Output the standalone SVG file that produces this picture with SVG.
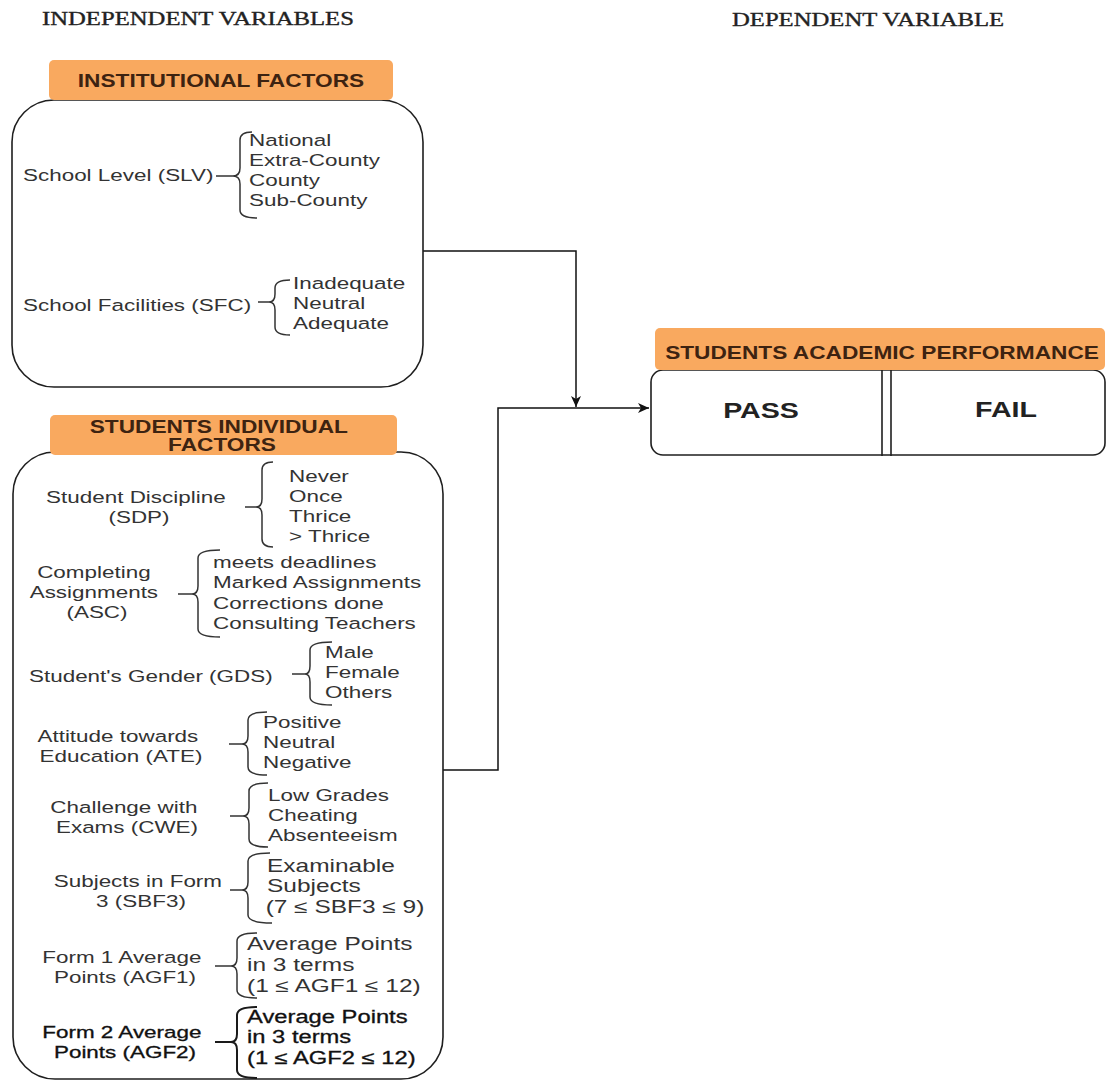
<svg xmlns="http://www.w3.org/2000/svg" width="1107" height="1082" viewBox="0 0 1107 1082">
  <style>
    .ttl { font-family: "Liberation Serif", "Times New Roman", serif; font-size: 19px; fill: #222; stroke: #222; stroke-width: 0.35; }
    .hd { font-family: "Liberation Sans", Arial, sans-serif; font-size: 18px; font-weight: bold; fill: #3d2311; }
    .t { font-family: "Liberation Sans", Arial, sans-serif; font-size: 16.5px; fill: #333; }
    .tl { font-family: "Liberation Sans", Arial, sans-serif; font-size: 18px; fill: #333; }
    .tbold { font-family: "Liberation Sans", Arial, sans-serif; fill: #111; stroke: #111; stroke-width: 0.3; }
    .pf { font-family: "Liberation Sans", Arial, sans-serif; font-size: 22px; font-weight: bold; fill: #222; }
    .mid { text-anchor: middle; }
    .box { fill: #fff; stroke: #1f1f1f; stroke-width: 1.6; }
    .hdr { fill: #f9a95f; }
    .brace { fill: none; stroke: #333; stroke-width: 1.5; }
    .brace2 { fill: none; stroke: #1a1a1a; stroke-width: 2; }
    .conn { fill: none; stroke: #111; stroke-width: 1.5; }
  </style>
  <defs>
    <marker id="arrow" markerUnits="userSpaceOnUse" markerWidth="14" markerHeight="12" refX="11" refY="5" orient="auto">
      <path d="M0,0 L11,5 L0,10 L3,5 Z" fill="#111"/>
    </marker>
  </defs>

  <!-- column titles -->
  <g id="titles">
    <text class="ttl" transform="translate(42 25) scale(1.3 1)">INDEPENDENT VARIABLES</text>
    <text class="ttl" transform="translate(732 26) scale(1.3 1)">DEPENDENT VARIABLE</text>
  </g>

  <!-- connectors -->
  <g id="connectors">
    <path class="conn" d="M423,251 H576 V407" marker-end="url(#arrow)"/>
    <path class="conn" d="M443,770 H498 V408 H649" marker-end="url(#arrow)"/>
  </g>

  <!-- institutional factors -->
  <g id="institutional">
    <rect class="box" x="12" y="100" width="411" height="287" rx="42"/>
    <rect class="hdr" x="49" y="60" width="344" height="40" rx="5"/>
    <text class="hd mid" transform="translate(221 87) scale(1.26 1)">INSTITUTIONAL FACTORS</text>

    <text class="t" transform="translate(23 181) scale(1.36 1)">School Level (SLV)</text>
    <path class="brace" d="M216,176 H233 M252,132 Q240,132 240,140 V168 Q240,176 233,176 Q240,176 240,184 V210 Q240,218 257,218"/>
    <text class="t" transform="translate(249 146) scale(1.36 1)">
      <tspan x="0">National</tspan>
      <tspan x="0" dy="20">Extra-County</tspan>
      <tspan x="0" dy="20">County</tspan>
      <tspan x="0" dy="20">Sub-County</tspan>
    </text>

    <text class="t" transform="translate(23 311) scale(1.36 1)">School Facilities (SFC)</text>
    <path class="brace" d="M258,302 H269 M290,280 Q275,280 275,288 V294 Q275,302 269,302 Q275,302 275,310 V327 Q275,335 290,335"/>
    <text class="t" transform="translate(293 289) scale(1.36 1)">
      <tspan x="0">Inadequate</tspan>
      <tspan x="0" dy="20">Neutral</tspan>
      <tspan x="0" dy="20">Adequate</tspan>
    </text>
  </g>

  <!-- students individual factors -->
  <g id="individual">
    <rect class="box" x="13" y="452" width="430" height="627" rx="42"/>
    <rect class="hdr" x="50" y="415" width="347" height="40" rx="5"/>
    <text class="hd mid" transform="translate(222 433) scale(1.26 1)">
      <tspan x="0">STUDENTS INDIVIDUAL</tspan>
      <tspan x="0" dy="18">FACTORS</tspan>
    </text>

    <!-- discipline -->
    <text class="t mid" transform="translate(139 503) scale(1.36 1)">
      <tspan x="0">Student Discipline</tspan>
      <tspan x="0" dy="20">(SDP)</tspan>
    </text>
    <path class="brace" d="M245,507 H256 M273,462 Q262,462 262,470 V499 Q262,507 256,507 Q262,507 262,515 V539 Q262,547 273,547"/>
    <text class="t" transform="translate(289 482) scale(1.36 1)">
      <tspan x="0">Never</tspan>
      <tspan x="0" dy="20">Once</tspan>
      <tspan x="0" dy="20">Thrice</tspan>
      <tspan x="0" dy="20">&gt; Thrice</tspan>
    </text>

    <!-- assignments -->
    <text class="t mid" transform="translate(97 578) scale(1.36 1)">
      <tspan x="0">Completing</tspan>
      <tspan x="0" dy="20">Assignments</tspan>
      <tspan x="0" dy="20">(ASC)</tspan>
    </text>
    <path class="brace" d="M178,594 H192 M220,550 Q198,550 198,558 V586 Q198,594 192,594 Q198,594 198,602 V629 Q198,637 220,637"/>
    <text class="t" transform="translate(213 568) scale(1.36 1)">
      <tspan x="0">meets deadlines</tspan>
      <tspan x="0" dy="20.5">Marked Assignments</tspan>
      <tspan x="0" dy="20.5">Corrections done</tspan>
      <tspan x="0" dy="20.5">Consulting Teachers</tspan>
    </text>

    <!-- gender -->
    <text class="t" transform="translate(29 682) scale(1.36 1)">Student's Gender (GDS)</text>
    <path class="brace" d="M292,674 H305 M332,642 Q310,642 310,650 V666 Q310,674 305,674 Q310,674 310,682 V697 Q310,705 332,705"/>
    <text class="t" transform="translate(325 658) scale(1.36 1)">
      <tspan x="0">Male</tspan>
      <tspan x="0" dy="20">Female</tspan>
      <tspan x="0" dy="20">Others</tspan>
    </text>

    <!-- attitude -->
    <text class="t mid" transform="translate(121 742) scale(1.36 1)">
      <tspan x="0">Attitude towards</tspan>
      <tspan x="0" dy="20">Education (ATE)</tspan>
    </text>
    <path class="brace" d="M229,744 H242 M267,712 Q248,712 248,720 V736 Q248,744 242,744 Q248,744 248,752 V767 Q248,775 267,775"/>
    <text class="t" transform="translate(263 728) scale(1.36 1)">
      <tspan x="0">Positive</tspan>
      <tspan x="0" dy="20">Neutral</tspan>
      <tspan x="0" dy="20">Negative</tspan>
    </text>

    <!-- exams -->
    <text class="t mid" transform="translate(127 813) scale(1.36 1)">
      <tspan x="0">Challenge with</tspan>
      <tspan x="0" dy="20">Exams (CWE)</tspan>
    </text>
    <path class="brace" d="M230,816 H243 M268,783 Q249,783 249,791 V808 Q249,816 243,816 Q249,816 249,824 V839 Q249,847 268,847"/>
    <text class="t" transform="translate(268 801) scale(1.36 1)">
      <tspan x="0">Low Grades</tspan>
      <tspan x="0" dy="20">Cheating</tspan>
      <tspan x="0" dy="20">Absenteeism</tspan>
    </text>

    <!-- subjects -->
    <text class="t mid" transform="translate(141 887) scale(1.36 1)">
      <tspan x="0">Subjects in Form</tspan>
      <tspan x="0" dy="20">3 (SBF3)</tspan>
    </text>
    <path class="brace" d="M230,890 H242 M270,853 Q248,853 248,861 V882 Q248,890 242,890 Q248,890 248,898 V915 Q248,923 272,923"/>
    <text class="tl" transform="translate(267 872) scale(1.36 1)">
      <tspan x="0">Examinable</tspan>
      <tspan x="0" dy="20.5">Subjects</tspan>
      <tspan x="-1" dy="20.5">(7 ≤ SBF3 ≤ 9)</tspan>
    </text>

    <!-- form 1 points -->
    <text class="t mid" transform="translate(125 963) scale(1.36 1)">
      <tspan x="0">Form 1 Average</tspan>
      <tspan x="0" dy="20">Points (AGF1)</tspan>
    </text>
    <path class="brace" d="M215,966 H231 M257,933 Q237,933 237,941 V958 Q237,966 231,966 Q237,966 237,974 V990 Q237,998 257,998"/>
    <text class="tl" transform="translate(247 950) scale(1.36 1)">
      <tspan x="0">Average Points</tspan>
      <tspan x="0" dy="21">in 3 terms</tspan>
      <tspan x="0" dy="21">(1 ≤ AGF1 ≤ 12)</tspan>
    </text>

    <!-- form 2 points -->
    <text class="tbold mid" font-size="16.5" transform="translate(125 1038) scale(1.36 1)">
      <tspan x="0">Form 2 Average</tspan>
      <tspan x="0" dy="20">Points (AGF2)</tspan>
    </text>
    <path class="brace2" d="M215,1042 H231 M257,1007 Q237,1007 237,1015 V1034 Q237,1042 231,1042 Q237,1042 237,1050 V1070 Q237,1078 257,1078"/>
    <text class="tbold" font-size="18" transform="translate(247 1023) scale(1.32 1)">
      <tspan x="0">Average Points</tspan>
      <tspan x="0" dy="20.5">in 3 terms</tspan>
      <tspan x="0" dy="20.5">(1 ≤ AGF2 ≤ 12)</tspan>
    </text>
  </g>

  <!-- students academic performance -->
  <g id="performance">
    <rect class="box" x="651" y="370" width="454" height="85" rx="12"/>
    <rect class="hdr" x="655" y="328" width="450" height="42" rx="5"/>
    <text class="hd mid" transform="translate(882 359) scale(1.26 1)">STUDENTS ACADEMIC PERFORMANCE</text>
    <line x1="882" y1="370" x2="882" y2="456" stroke="#1f1f1f" stroke-width="1.6"/>
    <line x1="891" y1="370" x2="891" y2="456" stroke="#1f1f1f" stroke-width="1.6"/>
    <text class="pf mid" transform="translate(761 418) scale(1.3 1)">PASS</text>
    <text class="pf mid" transform="translate(1006 417) scale(1.3 1)">FAIL</text>
  </g>
</svg>
